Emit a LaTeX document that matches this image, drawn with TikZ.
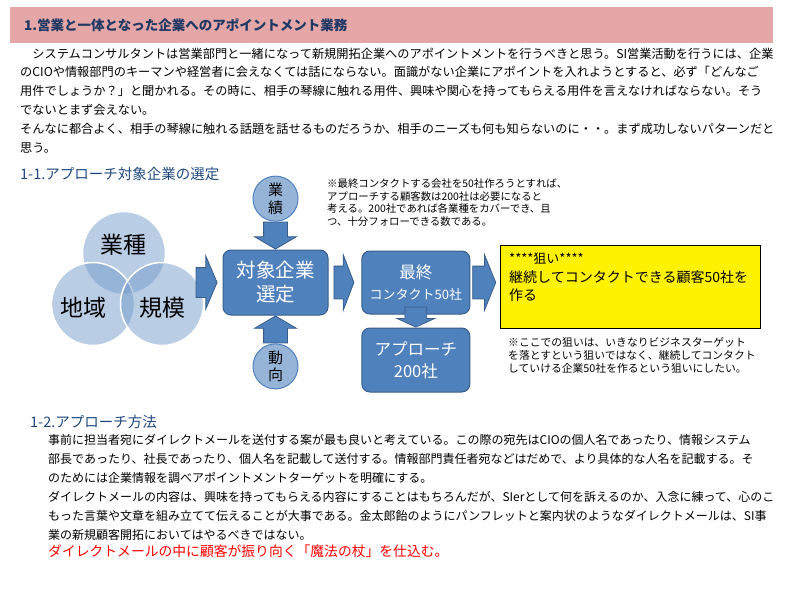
\documentclass[tikz,border=0pt]{standalone}
\usepackage{fontspec}
\setmainfont{Noto Sans CJK JP}
\usetikzlibrary{positioning,calc,shapes.arrows}
\definecolor{titlepink}{RGB}{228,166,166}
\definecolor{titlenavy}{RGB}{31,56,100}
\definecolor{headblue}{RGB}{31,73,125}
\definecolor{boxblue}{RGB}{79,129,189}
\definecolor{boxedge}{RGB}{56,93,138}
\definecolor{vennblue}{RGB}{115,155,203}
\definecolor{dotblue}{RGB}{150,180,216}
\newcommand{\fs}[2]{\fontsize{#1}{#2}\selectfont}

\begin{document}
\begin{tikzpicture}[x=1pt, y=-1pt,
    txt/.style={inner sep=0pt, align=left, anchor=north west},
    head/.style={inner sep=0pt, anchor=west, text=headblue, font=\fs{14.5}{17}},
    venn/.style={circle, minimum size=83pt, fill=vennblue, fill opacity=0.5, draw=white, line width=1.5pt},
    vtext/.style={inner sep=0pt, font=\fs{23}{26}},
    blk/.style={rounded corners=8pt, fill=boxblue, draw=boxedge, line width=1pt, text=white, align=center},
    dot/.style={circle, minimum size=45pt, inner sep=0pt, fill=dotblue, draw=boxblue, line width=1pt, align=center, font=\fs{15}{17.5}},
    barrow/.style n args={4}{single arrow, fill=boxblue, draw=boxedge, line width=0.8pt, inner xsep=0pt, inner ysep=#2, single arrow head extend=#3, single arrow tip angle=#4, minimum height=#1, minimum width=1pt}]
    \useasboundingbox (0,0) rectangle (800,600);

    % Titel
    \node[fill=titlepink, minimum width=763pt, minimum height=36pt, inner sep=0pt, anchor=north west] (bar) at (10,7) {};
    \node[inner sep=0pt, anchor=west, text=titlenavy, font=\fs{13.5}{16}\bfseries] (title) at ($(bar.west)+(14,0)$) {1.営業と一体となった企業へのアポイントメント業務};

    \node[txt, font=\fs{12.2}{18.8}] (intro) at (20,47.5) {　システムコンサルタントは営業部門と一緒になって新規開拓企業へのアポイントメントを行うべきと思う。SI営業活動を行うには、企業\\
のCIOや情報部門のキーマンや経営者に会えなくては話にならない。面識がない企業にアポイントを入れようとすると、必ず「どんなご\\
用件でしょうか？」と聞かれる。その時に、相手の琴線に触れる用件、興味や関心を持ってもらえる用件を言えなければならない。そう\\
でないとまず会えない。\\
そんなに都合よく、相手の琴線に触れる話題を話せるものだろうか、相手のニーズも何も知らないのに・・。まず成功しないパターンだと\\
思う。};

    % 1-1
    \node[head] (h11) at (20,174) {1-1.アプローチ対象企業の選定};
    \node[venn] (gyoshu) at (124,253) {};
    \node[venn] (chiiki) at (93,304) {};
    \node[venn] (kibo) at (162,304) {};
    \node[vtext] (gyoshut) at ($(gyoshu)+(-1,-8)$) {業種};
    \node[vtext] (chiikit) at ($(chiiki)+(-10,4)$) {地域};
    \node[vtext] (kibot) at ($(kibo)+(0,4)$) {規模};

    \node[blk, minimum width=105pt, minimum height=65pt, font=\fs{19.5}{24}] (sel) at (275.5,282.5) {対象企業\\選定};
    \node[barrow={21pt}{14.5pt}{11.5pt}{134}, left=5pt of sel] (ar1) {};
    \node[barrow={20pt}{16pt}{11.5pt}{138}, right=5pt of sel] (ar2) {};
    \node[blk, minimum width=108pt, minimum height=63pt, right=7pt of ar2, font=\fs{16.5}{21}] (saishu) {最終\\{\fs{13}{21}コンタクト50社}};
    \node[barrow={23pt}{16pt}{11.5pt}{136}, right=2pt of saishu] (ar3) {};
    \node[blk, minimum width=108pt, minimum height=64pt, below=13pt of saishu, font=\fs{16.5}{22}] (apr) {アプローチ\\200社};
    \node[barrow={20pt}{10.5pt}{8pt}{131}, rotate=-90, anchor=east] (ar4) at (apr.north) {};

    \node[barrow={27pt}{11.5pt}{9pt}{119}, rotate=-90, anchor=east] (ar5) at (sel.north) {};
    \node[dot, anchor=south] (gyoseki) at (ar5.west) {業\\績};
    \node[barrow={27pt}{11.5pt}{9pt}{119}, rotate=90, anchor=east] (ar6) at (sel.south) {};
    \node[dot, anchor=north] (doukou) at (ar6.west) {動\\向};

    \node[txt, font=\fs{10.4}{12.4}] (note1) at (327,179) {※最終コンタクトする会社を50社作ろうとすれば、\\
アプローチする顧客数は200社は必要になると\\
考える。200社であれば各業種をカバーでき、且\\
つ、十分フォローできる数である。};

    \node[draw=black, line width=0.6pt, fill=yellow, minimum width=260pt, minimum height=83pt, inner sep=0pt, anchor=north west] (goal) at (500,245) {};
    \node[txt, font=\fs{14}{18.5}] (goaltxt) at ($(goal.north west)+(9,8)$) {{\fs{13}{18.5}****狙い****}\\
継続してコンタクトできる顧客50社を\\
作る};
    \node[txt, font=\fs{10.8}{13.4}] (note2) at (508,337) {※ここでの狙いは、いきなりビジネスターゲット\\
を落とすという狙いではなく、継続してコンタクト\\
していける企業50社を作るという狙いにしたい。};

    % 1-2
    \node[head] (h12) at (30,422) {1-2.アプローチ方法};
    \node[txt, font=\fs{12}{19}] (method) at (48,434.5) {事前に担当者宛にダイレクトメールを送付する案が最も良いと考えている。この際の宛先はCIOの個人名であったり、情報システム\\
部長であったり、社長であったり、個人名を記載して送付する。情報部門責任者宛などはだめで、より具体的な人名を記載する。そ\\
のためには企業情報を調べアポイントメントターゲットを明確にする。\\
ダイレクトメールの内容は、興味を持ってもらえる内容にすることはもちろんだが、SIerとして何を訴えるのか、入念に練って、心のこ\\
もった言葉や文章を組み立てて伝えることが大事である。金太郎飴のようにパンフレットと案内状のようなダイレクトメールは、SI事\\
業の新規顧客開拓においてはやるべきではない。};
    \node[inner sep=0pt, anchor=west, text=red, font=\fs{13.8}{16}] (magic) at (48,551) {ダイレクトメールの中に顧客が振り向く「魔法の杖」を仕込む。};
\end{tikzpicture}
\end{document}
